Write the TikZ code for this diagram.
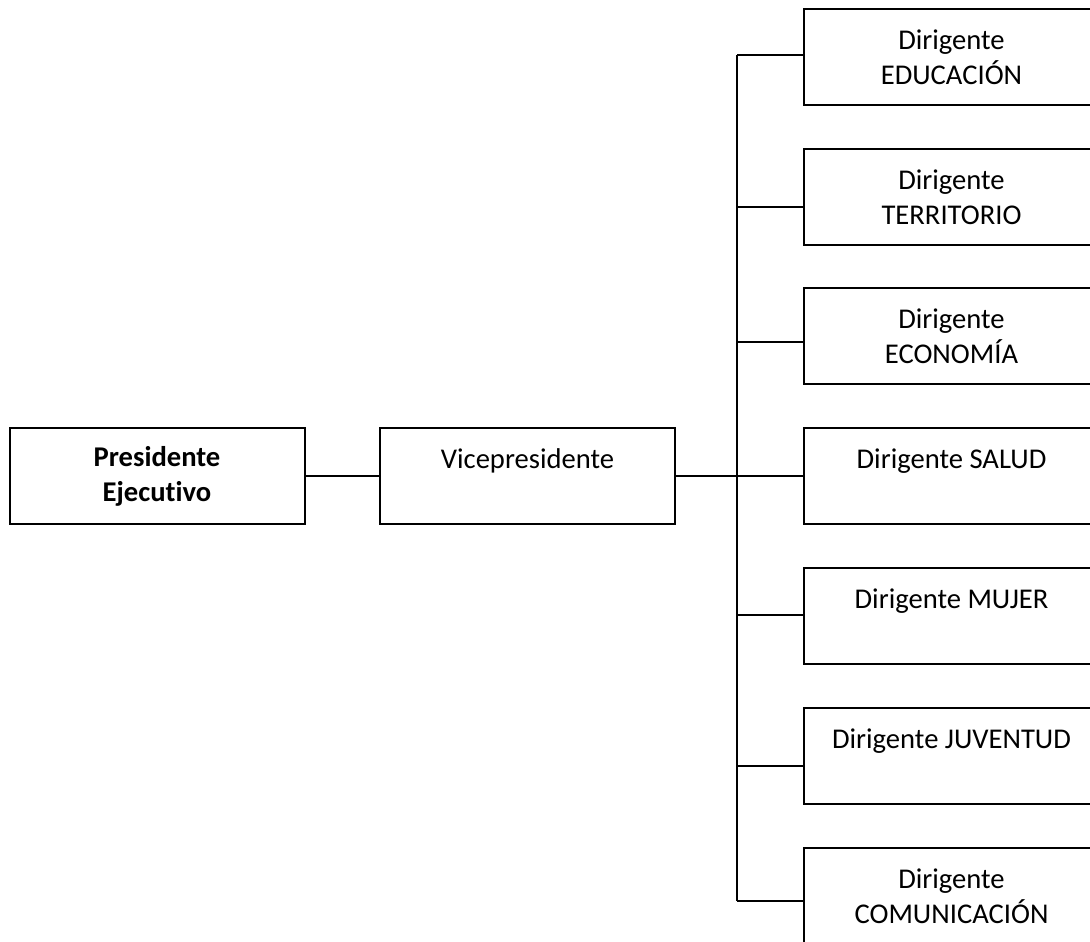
\documentclass[tikz,border=0pt]{standalone}
\usepackage{fontspec}
\setmainfont{Carlito}[Ligatures=NoCommon]
\begin{document}
\begin{tikzpicture}[
		x=0.5pt, y=-0.5pt,
		every node/.style={draw, rectangle, line width=1pt, minimum width=147.5pt, minimum height=48pt,
			inner sep=0, align=center, font=\fontsize{14.3}{17.5}\selectfont},
		link/.style={line width=1pt},
	]
	\useasboundingbox (0,0) rectangle (1090,941);
	\node (pres) at (157,476) {\textbf{Presidente}\\\textbf{Ejecutivo}};
	\node (vice) at (527.5,476) {Vicepresidente\\\mbox{}};
	\node (d1) at (951.5,57) {Dirigente\\EDUCACIÓN};
	\node (d2) at (951.5,197) {Dirigente\\TERRITORIO};
	\node (d3) at (951.5,336) {Dirigente\\ECONOMÍA};
	\node (d4) at (951.5,476) {Dirigente SALUD\\\mbox{}};
	\node (d5) at (951.5,616) {Dirigente MUJER\\\mbox{}};
	\node (d6) at (951.5,756) {Dirigente JUVENTUD\\\mbox{}};
	\node (d7) at (951.5,896) {Dirigente\\COMUNICACIÓN};
	% trunk
	\foreach \i/\y in {1/55,2/207,3/342,4/476,5/615,6/766,7/901}
		\coordinate (t\i) at (737,\y);
	\draw[link] (t1) -- (t7);
	\foreach \i in {1,...,7}
		\draw[link] (t\i) -- (t\i -| d\i.west);
	\draw[link] (pres) -- (vice);
	\draw[link] (vice) -- (t4);
\end{tikzpicture}
\end{document}
